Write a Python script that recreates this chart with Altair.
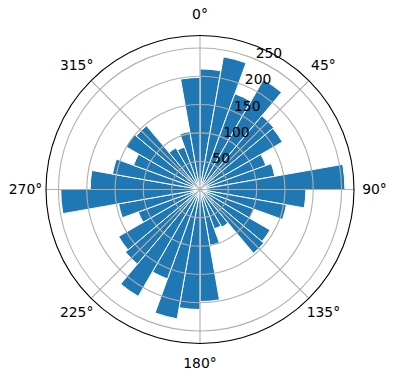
import math
import altair as alt
import pandas as pd

# ---- data ----
bin_start = list(range(0, 360, 10))          # degrees, clockwise from north
bin_width = 10
counts = [213, 238, 180, 224, 170, 168, 124, 134, 256,
          187, 155, 101, 143, 147, 77, 74, 100, 198,
          212, 232, 168, 218, 172, 166, 116, 146, 246,
          194, 157, 125, 151, 147, 85, 80, 104, 198]
ring_values = [50, 100, 150, 200, 250]
ring_labels = ["50", "100", "150", "200", "250"]
spoke_angles = [0, 45, 90, 135, 180, 225, 270, 315]
angle_labels = ["0°", "45°", "90°", "135°", "180°", "225°", "270°", "315°"]
r_max = 272

# ---- tables ----
bars = pd.DataFrame({"t0": bin_start,
                     "t1": [b + bin_width for b in bin_start],
                     "r": counts})
rings = pd.DataFrame({"t0": [0] * len(ring_values), "t1": [360] * len(ring_values),
                      "r": ring_values, "label": ring_labels})
spokes = pd.DataFrame({"a": spoke_angles, "r": [r_max] * len(spoke_angles),
                       "label": angle_labels})
outer = pd.DataFrame({"t0": [0], "t1": [360], "r": [r_max]})

CX, CY = 200, 189.5
theta_scale = alt.Scale(domain=[0, 360], range=[0, 2 * math.pi])
r_scale = alt.Scale(type="linear", domain=[0, r_max], range=[0, 154], zero=True)
FONT = "DejaVu Sans"

bar_layer = alt.Chart(bars).mark_arc(color="#1f77b4", stroke="white", strokeWidth=1).encode(
    theta=alt.Theta("t0:Q", scale=theta_scale, stack=False),
    theta2="t1:Q",
    radius=alt.Radius("r:Q", scale=r_scale),
    x=alt.value(CX), y=alt.value(CY),
)

ring_layer = alt.Chart(rings).mark_arc(filled=False, stroke="#b0b0b0", strokeWidth=1.1).encode(
    theta=alt.Theta("t0:Q", scale=theta_scale, stack=False),
    theta2="t1:Q",
    radius=alt.Radius("r:Q", scale=r_scale),
    x=alt.value(CX), y=alt.value(CY),
)

spoke_layer = alt.Chart(spokes).mark_arc(filled=False, stroke="#b0b0b0", strokeWidth=1.1).encode(
    theta=alt.Theta("a:Q", scale=theta_scale, stack=False),
    theta2="a:Q",
    radius=alt.Radius("r:Q", scale=r_scale),
    x=alt.value(CX), y=alt.value(CY),
)

outer_layer = alt.Chart(outer).mark_arc(filled=False, stroke="black", strokeWidth=1.1).encode(
    theta=alt.Theta("t0:Q", scale=theta_scale, stack=False),
    theta2="t1:Q",
    radius=alt.Radius("r:Q", scale=r_scale),
    x=alt.value(CX), y=alt.value(CY),
)

angle_text = alt.Chart(spokes).mark_text(font=FONT, fontSize=13.9, color="black",
                                         align="center", baseline="middle").encode(
    theta=alt.Theta("a:Q", scale=theta_scale, stack=False),
    radius=alt.value(174.5),
    text="label:N",
    x=alt.value(CX), y=alt.value(CY),
)

ring_text = alt.Chart(rings).mark_text(font=FONT, fontSize=13.9, color="black",
                                       align="left", baseline="alphabetic", dx=1.5, dy=-0.5).encode(
    theta=alt.value(math.radians(22.5)),
    radius=alt.Radius("r:Q", scale=r_scale),
    text="label:N",
    x=alt.value(CX), y=alt.value(CY),
)

chart = alt.layer(bar_layer, ring_layer, spoke_layer, outer_layer, angle_text, ring_text).properties(
    width=396, height=380, autosize="none", padding=0, background="white"
).configure_view(strokeWidth=0)

chart.save("out.html", embed_options={"renderer": "svg", "actions": False})
